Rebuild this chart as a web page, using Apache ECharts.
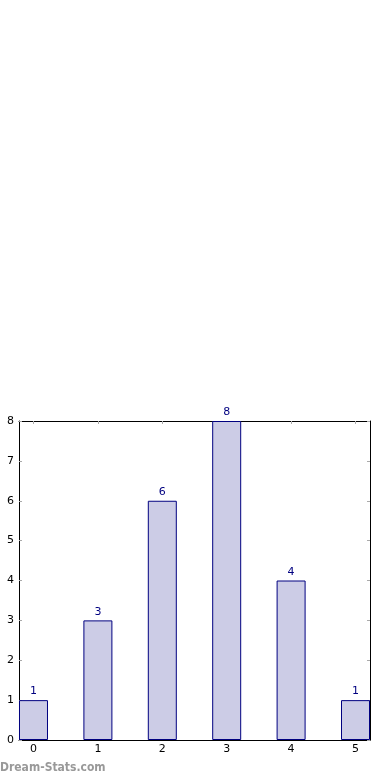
<!DOCTYPE html>
<html><head><meta charset="utf-8">
<script src="https://cdn.jsdelivr.net/npm/echarts@6/dist/echarts.min.js"></script>
<style>html,body{margin:0;padding:0;background:#fff}#c{width:390px;height:780px}</style>
</head><body><div id="c"></div>
<script>
const categories = [0, 1, 2, 3, 4, 5];
const values = [1, 3, 6, 8, 4, 1];
const yTicks = [0, 1, 2, 3, 4, 5, 6, 7, 8];

const chart = echarts.init(document.getElementById('c'), null, {renderer: 'canvas'});
const font = 'DejaVu Sans';
const tickStyle = {show: true, inside: true, length: 3, lineStyle: {color: '#aaaaaa', width: 1}};
const axisLine = {show: true, onZero: false, lineStyle: {color: '#000', width: 1}};
chart.setOption({
  animation: false,
  textStyle: {fontFamily: font},
  grid: {left: 19, right: 20, top: 421, bottom: 40, containLabel: false},
  graphic: [{type: 'text', left: 0, top: 762, style: {text: 'Dream-Stats.com', fill: '#999999', font: 'bold 12px "DejaVu Sans Condensed"'}}],
  xAxis: [{
    type: 'value', min: -0.225, max: 5.225, position: 'bottom',
    axisLine: axisLine,
    axisTick: Object.assign({customValues: categories}, tickStyle),
    axisLabel: {customValues: categories, color: '#000', fontSize: 11, margin: 4, fontFamily: font},
    splitLine: {show: false}
  }, {
    type: 'value', min: -0.225, max: 5.225, position: 'top',
    axisLine: axisLine,
    axisTick: Object.assign({customValues: categories}, tickStyle),
    axisLabel: {show: false}, splitLine: {show: false}
  }],
  yAxis: [{
    type: 'value', min: 0, max: 8, interval: 1, position: 'left',
    axisLine: axisLine, axisTick: tickStyle,
    axisLabel: {color: '#000', fontSize: 11, margin: 5, fontFamily: font},
    splitLine: {show: false}
  }, {
    type: 'value', min: 0, max: 8, interval: 1, position: 'right',
    axisLine: axisLine, axisTick: tickStyle,
    axisLabel: {show: false}, splitLine: {show: false}
  }],
  series: [{
    type: 'bar', xAxisIndex: 0, yAxisIndex: 0,
    data: categories.map((c, i) => [c, values[i]]),
    barWidth: 29,
    clip: true,
    itemStyle: {color: '#ccccE6', borderColor: '#000080', borderWidth: 1},
    label: {show: true, position: 'top', distance: 3, color: '#000080', fontSize: 11, fontFamily: font}
  }]
});
</script></body></html>
